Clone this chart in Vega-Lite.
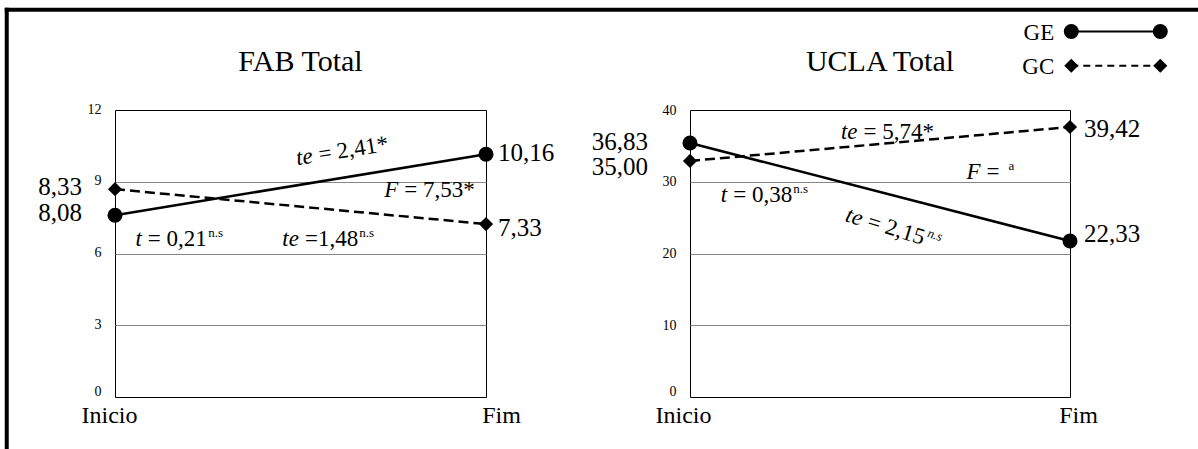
{
  "$schema": "https://vega.github.io/schema/vega-lite/v6.json",
  "background": "white",
  "padding": {"left": 3, "top": 6, "right": 0, "bottom": 0},
  "bounds": "flush",
  "spacing": 204,
  "config": {
    "view": {"stroke": "black", "strokeWidth": 1},
    "font": "Liberation Serif, Times New Roman, DejaVu Serif, serif",
    "text": {"font": "Liberation Serif, Times New Roman, DejaVu Serif, serif", "color": "black"},
    "axis": {"labelFont": "Liberation Serif, Times New Roman, DejaVu Serif, serif", "labelColor": "black"}
  },
  "datasets": {
    "frame": [
      {"x": -0.2918, "x2": -0.2918, "y": 16.19, "y2": -2.3},
      {"x": -0.2918, "x2": 2.95, "y": 16.19, "y2": 16.19}
    ],
    "fab": [
      {"series": "GE", "x": 0, "y": 7.6, "label": "8,08", "ly": 7.69},
      {"series": "GE", "x": 1, "y": 10.15, "label": "10,16", "ly": 10.2},
      {"series": "GC", "x": 0, "y": 8.69, "label": "8,33", "ly": 8.78},
      {"series": "GC", "x": 1, "y": 7.23, "label": "7,33", "ly": 7.07}
    ],
    "ucla": [
      {"series": "GE", "x": 0, "y": 35.4, "label": "36,83", "ly": 35.54},
      {"series": "GE", "x": 1, "y": 21.74, "label": "22,33", "ly": 22.72},
      {"series": "GC", "x": 0, "y": 32.9, "label": "35,00", "ly": 32.06},
      {"series": "GC", "x": 1, "y": 37.63, "label": "39,42", "ly": 37.35}
    ],
    "fab_notes": [
      {"kind": "title", "s": "FAB Total", "x": 0.5, "y": 13.62},
      {"kind": "flat", "v": "F", "r": "= 7,53*", "x": 0.7636, "y": 8.36},
      {"kind": "flat", "v": "t", "r": "= 0,21", "x": 0.0722, "y": 6.31},
      {"kind": "flat", "v": "te", "r": "=1,48", "x": 0.4957, "y": 6.31},
      {"kind": "rot", "v": "te", "r": "= 2,41*", "x": 0.5356, "y": 9.8},
      {"kind": "sup", "s": "n.s", "x": 0.2516, "y": 6.31},
      {"kind": "sup", "s": "n.s", "x": 0.6584, "y": 6.31}
    ],
    "ucla_notes": [
      {"kind": "title", "s": "UCLA Total", "x": 0.5, "y": 45.44},
      {"kind": "flat", "v": "te", "r": "= 5,74*", "x": 0.441, "y": 35.96},
      {"kind": "flat", "v": "F", "r": "=", "x": 0.7647, "y": 30.38},
      {"kind": "flat", "v": "t", "r": "= 0,38", "x": 0.0979, "y": 27.18},
      {"kind": "rot", "v": "te", "r": "= 2,15", "x": 0.4479, "y": 23.85},
      {"kind": "sup", "s": "a", "x": 0.838, "y": 30.38},
      {"kind": "sup", "s": "n.s", "x": 0.272, "y": 27.18},
      {"kind": "suprot", "s": "n.s", "x": 0.6158, "y": 21.13}
    ],
    "legend": [
      {"series": "GE", "x": 1.0034, "y": 50.94},
      {"series": "GE", "x": 1.2376, "y": 50.94},
      {"series": "GC", "x": 1.0034, "y": 46.17},
      {"series": "GC", "x": 1.2376, "y": 46.17}
    ]
  },
  "hconcat": [
    {
      "width": 371,
      "height": 287,
      "encoding": {
        "x": {"field": "x", "type": "quantitative", "scale": {"domain": [0, 1], "nice": false, "zero": false},
          "axis": {"values": [0, 1], "title": null, "domain": false, "ticks": false, "grid": false, "labelFontSize": 24, "labelPadding": 6, "labelFlush": false, "labelOverlap": false, "labelBaseline": "top",
            "labelExpr": "datum.value == 0 ? 'Inicio' : 'Fim'",
            "labelOffset": {"condition": {"test": "datum.value == 0", "value": -6}, "value": 15}}},
        "y": {"field": "y", "type": "quantitative", "scale": {"domain": [0, 12], "nice": false, "zero": false},
          "axis": {"values": [0, 3, 6, 9, 12], "title": null, "domain": false, "ticks": false, "labelFontSize": 14, "labelPadding": 14, "grid": true, "gridColor": "#868686", "gridWidth": 1,
            "labelOffset": {"condition": {"test": "datum.value == 0", "value": -6}, "value": -1},
            "gridOpacity": {"condition": {"test": "datum.value == 0 || datum.value == 12", "value": 0}, "value": 1}}}
      },
      "layer": [
        {"data": {"name": "frame"}, "mark": {"type": "rule", "color": "black", "strokeWidth": 4, "strokeCap": "square"},
          "encoding": {"x2": {"field": "x2"}, "y2": {"field": "y2"}}},
        {"data": {"name": "fab"}, "transform": [{"filter": "datum.series == 'GE'"}], "mark": {"type": "line", "color": "black", "strokeWidth": 2.5}},
        {"data": {"name": "fab"}, "transform": [{"filter": "datum.series == 'GC'"}], "mark": {"type": "line", "color": "black", "strokeWidth": 2.5, "strokeDash": [10, 5]}},
        {"data": {"name": "fab"}, "transform": [{"filter": "datum.series == 'GE'"}], "mark": {"type": "point", "shape": "circle", "filled": true, "color": "black", "opacity": 1, "size": 225}},
        {"data": {"name": "fab"}, "transform": [{"filter": "datum.series == 'GC'"}], "mark": {"type": "point", "shape": "diamond", "filled": true, "color": "black", "opacity": 1, "size": 200}},
        {"data": {"name": "fab"}, "transform": [{"filter": "datum.x == 0"}], "mark": {"type": "text", "align": "right", "baseline": "middle", "dx": -33, "fontSize": 25}, "encoding": {"y": {"field": "ly", "type": "quantitative"}, "text": {"field": "label"}}},
        {"data": {"name": "fab"}, "transform": [{"filter": "datum.x == 1"}], "mark": {"type": "text", "align": "left", "baseline": "middle", "dx": 12, "fontSize": 25}, "encoding": {"y": {"field": "ly", "type": "quantitative"}, "text": {"field": "label"}}},
        {"data": {"name": "fab_notes"}, "transform": [{"filter": "datum.kind == 'title'"}], "mark": {"type": "text", "align": "center", "baseline": "alphabetic", "fontSize": 30}, "encoding": {"text": {"field": "s"}}},
        {"data": {"name": "fab_notes"}, "transform": [{"filter": "datum.kind == 'flat'"}], "mark": {"type": "text", "align": "right", "baseline": "alphabetic", "fontSize": 23, "fontStyle": "italic"}, "encoding": {"text": {"field": "v"}}},
        {"data": {"name": "fab_notes"}, "transform": [{"filter": "datum.kind == 'flat'"}], "mark": {"type": "text", "align": "left", "baseline": "alphabetic", "fontSize": 23, "dx": 6}, "encoding": {"text": {"field": "r"}}},
        {"data": {"name": "fab_notes"}, "transform": [{"filter": "datum.kind == 'rot'"}], "mark": {"type": "text", "align": "right", "baseline": "alphabetic", "fontSize": 23, "fontStyle": "italic", "angle": 351}, "encoding": {"text": {"field": "v"}}},
        {"data": {"name": "fab_notes"}, "transform": [{"filter": "datum.kind == 'rot'"}], "mark": {"type": "text", "align": "left", "baseline": "alphabetic", "fontSize": 23, "dx": 6, "angle": 351}, "encoding": {"text": {"field": "r"}}},
        {"data": {"name": "fab_notes"}, "transform": [{"filter": "datum.kind == 'sup'"}], "mark": {"type": "text", "align": "left", "baseline": "alphabetic", "fontSize": 13, "dy": -9}, "encoding": {"text": {"field": "s"}}}
      ]
    },
    {
      "width": 380,
      "height": 287,
      "encoding": {
        "x": {"field": "x", "type": "quantitative", "scale": {"domain": [0, 1], "nice": false, "zero": false},
          "axis": {"values": [0, 1], "title": null, "domain": false, "ticks": false, "grid": false, "labelFontSize": 24, "labelPadding": 6, "labelFlush": false, "labelOverlap": false, "labelBaseline": "top",
            "labelExpr": "datum.value == 0 ? 'Inicio' : 'Fim'",
            "labelOffset": {"condition": {"test": "datum.value == 0", "value": -7}, "value": 8}}},
        "y": {"field": "y", "type": "quantitative", "scale": {"domain": [0, 40], "nice": false, "zero": false},
          "axis": {"values": [0, 10, 20, 30, 40], "title": null, "domain": false, "ticks": false, "labelFontSize": 14, "labelPadding": 14, "grid": true, "gridColor": "#868686", "gridWidth": 1,
            "labelOffset": {"condition": {"test": "datum.value == 0", "value": -6}, "value": 0},
            "gridOpacity": {"condition": {"test": "datum.value == 0 || datum.value == 40", "value": 0}, "value": 1}}}
      },
      "layer": [
        {"data": {"name": "ucla"}, "transform": [{"filter": "datum.series == 'GE'"}], "mark": {"type": "line", "color": "black", "strokeWidth": 2.5}},
        {"data": {"name": "ucla"}, "transform": [{"filter": "datum.series == 'GC'"}], "mark": {"type": "line", "color": "black", "strokeWidth": 2.5, "strokeDash": [10, 5]}},
        {"data": {"name": "ucla"}, "transform": [{"filter": "datum.series == 'GE'"}], "mark": {"type": "point", "shape": "circle", "filled": true, "color": "black", "opacity": 1, "size": 225}},
        {"data": {"name": "ucla"}, "transform": [{"filter": "datum.series == 'GC'"}], "mark": {"type": "point", "shape": "diamond", "filled": true, "color": "black", "opacity": 1, "size": 200}},
        {"data": {"name": "ucla"}, "transform": [{"filter": "datum.x == 0"}], "mark": {"type": "text", "align": "right", "baseline": "middle", "dx": -42, "fontSize": 25}, "encoding": {"y": {"field": "ly", "type": "quantitative"}, "text": {"field": "label"}}},
        {"data": {"name": "ucla"}, "transform": [{"filter": "datum.x == 1"}], "mark": {"type": "text", "align": "left", "baseline": "middle", "dx": 14, "fontSize": 25}, "encoding": {"y": {"field": "ly", "type": "quantitative"}, "text": {"field": "label"}}},
        {"data": {"name": "ucla_notes"}, "transform": [{"filter": "datum.kind == 'title'"}], "mark": {"type": "text", "align": "center", "baseline": "alphabetic", "fontSize": 30}, "encoding": {"text": {"field": "s"}}},
        {"data": {"name": "ucla_notes"}, "transform": [{"filter": "datum.kind == 'flat'"}], "mark": {"type": "text", "align": "right", "baseline": "alphabetic", "fontSize": 23, "fontStyle": "italic"}, "encoding": {"text": {"field": "v"}}},
        {"data": {"name": "ucla_notes"}, "transform": [{"filter": "datum.kind == 'flat'"}], "mark": {"type": "text", "align": "left", "baseline": "alphabetic", "fontSize": 23, "dx": 6}, "encoding": {"text": {"field": "r"}}},
        {"data": {"name": "ucla_notes"}, "transform": [{"filter": "datum.kind == 'rot'"}], "mark": {"type": "text", "align": "right", "baseline": "alphabetic", "fontSize": 23, "fontStyle": "italic", "angle": 17}, "encoding": {"text": {"field": "v"}}},
        {"data": {"name": "ucla_notes"}, "transform": [{"filter": "datum.kind == 'rot'"}], "mark": {"type": "text", "align": "left", "baseline": "alphabetic", "fontSize": 23, "dx": 6, "angle": 17}, "encoding": {"text": {"field": "r"}}},
        {"data": {"name": "ucla_notes"}, "transform": [{"filter": "datum.kind == 'sup'"}], "mark": {"type": "text", "align": "left", "baseline": "alphabetic", "fontSize": 13, "dy": -9}, "encoding": {"text": {"field": "s"}}},
        {"data": {"name": "ucla_notes"}, "transform": [{"filter": "datum.kind == 'suprot'"}], "mark": {"type": "text", "align": "left", "baseline": "alphabetic", "fontSize": 13, "dy": -9, "angle": 17, "fontStyle": "italic"}, "encoding": {"text": {"field": "s"}}},
        {"data": {"name": "legend"}, "transform": [{"filter": "datum.series == 'GE'"}], "mark": {"type": "line", "color": "black", "strokeWidth": 2}},
        {"data": {"name": "legend"}, "transform": [{"filter": "datum.series == 'GC'"}], "mark": {"type": "line", "color": "black", "strokeWidth": 2, "strokeDash": [7, 5]}},
        {"data": {"name": "legend"}, "transform": [{"filter": "datum.series == 'GE'"}], "mark": {"type": "point", "shape": "circle", "filled": true, "color": "black", "opacity": 1, "size": 225}},
        {"data": {"name": "legend"}, "transform": [{"filter": "datum.series == 'GC'"}], "mark": {"type": "point", "shape": "diamond", "filled": true, "color": "black", "opacity": 1, "size": 200}},
        {"data": {"name": "legend"}, "transform": [{"filter": "datum.x < 1.1"}], "mark": {"type": "text", "align": "right", "baseline": "middle", "dx": -17, "dy": 1, "fontSize": 23}, "encoding": {"text": {"field": "series"}}}
      ]
    }
  ]
}
